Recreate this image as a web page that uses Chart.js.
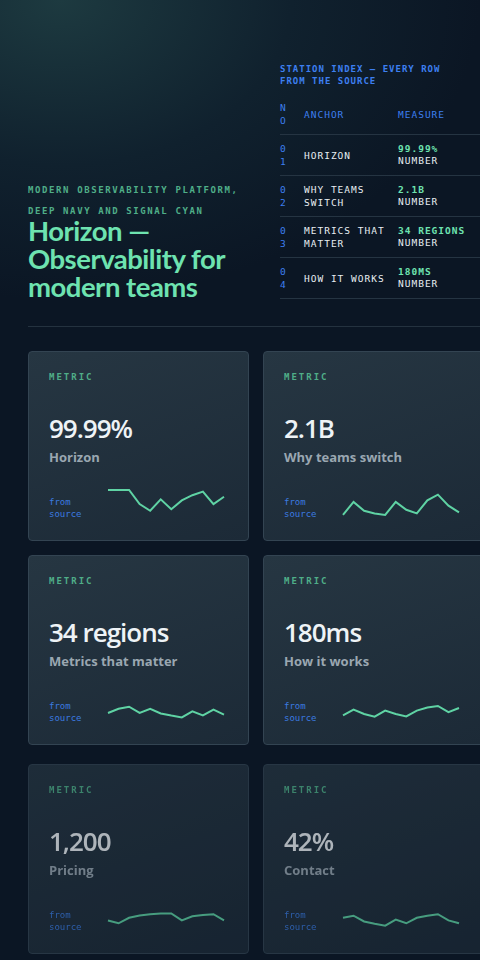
<!DOCTYPE html>
<html><head><meta charset="utf-8">
<script src="https://cdn.jsdelivr.net/npm/chart.js@4/dist/chart.umd.min.js"></script>
<style>
html,body{margin:0;padding:0;width:480px;height:960px;overflow:hidden}
body{background:radial-gradient(ellipse 420px 300px at 60px 0px,#1d3a40 0%,#10212e 55%,#0b1624 100%) #0b1624;font-family:Lato,sans-serif;position:relative}
.mono{font-family:"DejaVu Sans Mono",monospace}
.kick{position:absolute;left:28px;top:180px;color:#4fae88;font-size:9px;letter-spacing:1.6px;line-height:21px;font-weight:700}
h1{position:absolute;left:28px;top:217px;margin:0;color:#6ee3b0;font-size:27.5px;line-height:28px;font-weight:700;letter-spacing:-0.5px;width:240px}
.idx{position:absolute;left:280px;top:63px;width:220px;font-size:9px;letter-spacing:1px}
.idx .cap{color:#3d7ff0;line-height:12px;margin-bottom:7px;font-weight:700}
table{border-collapse:collapse;width:210px;font-size:9.5px}
td{padding:0;vertical-align:middle;height:40px;border-bottom:1px solid #253442;color:#e8eef2}
tr.h td{color:#3d7ff0;height:40px}
td.n{color:#3d7ff0;width:24px;line-height:13px}
td.a{width:94px;line-height:13px}
.g{color:#6ee3b0;font-weight:700}
.hr{position:absolute;left:28px;top:326px;width:452px;height:1px;background:#24323f}
.card{position:absolute;width:219px;height:188px;border:1px solid #334452;border-radius:4px;background:linear-gradient(160deg,#263642,#1c2a37)}
.card .m{position:absolute;left:20px;top:20px;color:#4fae88;font-size:9px;letter-spacing:2px;font-weight:700}
.card .v{position:absolute;left:20px;top:58px;color:#eef3f6;font-size:26px;font-weight:600;font-family:"Open Sans",sans-serif;letter-spacing:-1px}
.card .l{position:absolute;left:20px;top:96px;color:#9aa7b1;font-size:13px;font-weight:700;font-family:"Open Sans",sans-serif}
.card .f{position:absolute;left:20px;top:144px;color:#3b7be0;font-size:9px;line-height:12px}
.card .c{position:absolute;left:77px;top:136px;width:120px;height:30px}
.faded{opacity:.72}
</style></head><body>
<div class="kick mono">MODERN OBSERVABILITY PLATFORM,<br>DEEP NAVY AND SIGNAL CYAN</div>
<h1>Horizon — Observability for modern teams</h1>
<div class="idx mono"><div class="cap">STATION INDEX — EVERY ROW<br>FROM THE SOURCE</div>
<table id="tb"><tr class="h"><td class="n">N<br>O</td><td class="a" style="color:#3d7ff0">ANCHOR</td><td>MEASURE</td></tr></table></div>
<div class="hr"></div>
<div id="cards"></div>
<script>
const labels=["Horizon","Why teams switch","Metrics that matter","How it works","Pricing","Contact"];
const values=["99.99%","2.1B","34 regions","180ms","1,200","42%"];
const tableAnchors=["HORIZON","WHY TEAMS<br>SWITCH","METRICS THAT<br>MATTER","HOW IT WORKS"];
const tableMeasures=["99.99%","2.1B","34 REGIONS","180MS"];
const s1=[5,5,5,2.3,1,3.2,1.3,3,4,4.7,2.3,3.7];
const s2=[0.2,2.7,1,0.5,0.2,2.7,1.2,0.5,3,4.1,2,0.7];
const s3=[2.7,4.3,5.1,2.7,4.3,2.5,1.7,1,3.3,1.8,4,2.1];
const s4=[1.8,4,2.3,1.3,3.6,2.3,1.4,3.6,4.8,5.4,3,4.6];
const s5=[3.3,2.2,4.3,5.2,5.7,6,6,3.3,4.9,5.4,5.7,3.3];
const s6=[4.3,5.1,2.9,2,1.3,3.6,2.2,4.3,5.1,5.7,3.3,2.2];
const series=[s1,s2,s3,s4,s5,s6];
const tb=document.getElementById('tb');
tableAnchors.forEach((a,i)=>{const tr=document.createElement('tr');
tr.innerHTML=`<td class="n">0<br>${i+1}</td><td class="a">${a}</td><td style="line-height:12px"><span class="g">${tableMeasures[i]}</span><br>NUMBER</td>`;tb.appendChild(tr);});
const pos=[[28,351],[263,351],[28,555],[263,555],[28,764],[263,764]];
const wrap=document.getElementById('cards');
series.forEach((s,i)=>{const d=document.createElement('div');d.className='card'+(i>3?' faded':'');
d.style.left=pos[i][0]+'px';d.style.top=pos[i][1]+'px';
d.innerHTML=`<div class="m mono">METRIC</div><div class="v">${values[i]}</div><div class="l">${labels[i]}</div><div class="f mono">from<br>source</div><div class="c"><canvas></canvas></div>`;
wrap.appendChild(d);
new Chart(d.querySelector('canvas'),{type:'line',data:{labels:s.map((_,k)=>k),datasets:[{data:s,borderColor:'#5fd3a4',borderWidth:2,pointRadius:0,tension:0,fill:false}]},
options:{responsive:true,maintainAspectRatio:false,animation:false,layout:{padding:2},plugins:{legend:{display:false},tooltip:{enabled:false}},scales:{x:{display:false},y:{display:false}}}});
});
</script></body></html>
